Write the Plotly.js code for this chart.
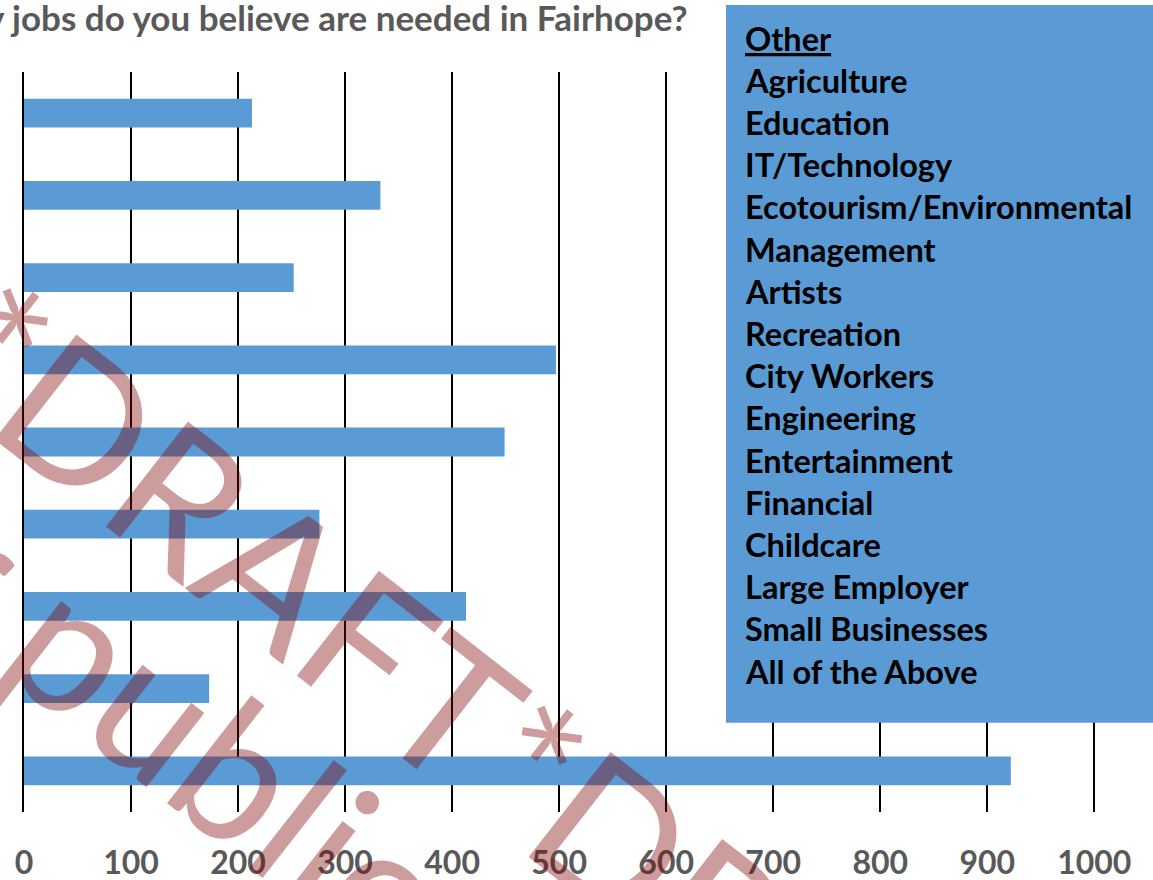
<!DOCTYPE html>
<html>
<head>
<meta charset="utf-8">
<script src="https://cdn.plot.ly/plotly-3.0.1.min.js"></script>
<style>html,body{margin:0;padding:0;background:#fff;overflow:hidden}</style>
</head>
<body>
<div id="chart" style="width:1153px;height:880px"></div>
<script>
// ---- data ----
var categories = ["Category 1","Category 2","Category 3","Category 4","Category 5","Category 6","Category 7","Category 8","Category 9"];
var values = [213, 333, 252, 497, 449, 276, 413, 173, 922];
var tickValues = [0,100,200,300,400,500,600,700,800,900,1000];
var tickLabels = ["0","100","200","300","400","500","600","700","800","900","1000"];
var otherJobs = ["Other","Agriculture","Education","IT/Technology","Ecotourism/Environmental","Management","Artists","Recreation","City Workers","Engineering","Entertainment","Financial","Childcare","Large Employer","Small Businesses","All of the Above"];
var titleText = "What industry jobs do you believe are needed in Fairhope?";
var watermark1 = "*DRAFT*DRAFT*";
var watermark2 = "Not for public distribution";

// ---- layout helpers (pixel -> paper) ----
var W = 1153, H = 880, ML = 24, MR = 48, MT = 72, MB = 68;
var PW = W - ML - MR, PH = H - MT - MB;
function px(x){ return (x - ML) / PW; }
function py(y){ return 1 - (y - MT) / PH; }

var blue = "#5B9BD5";
var wmColor = "rgba(125,0,0,0.39)";
var fontFam = "Lato, 'Open Sans', sans-serif";

var annotations = [];
annotations.push({
  xref:"paper", yref:"paper", x:px(690), y:py(17.5), xanchor:"right", yanchor:"middle",
  text:"<b>"+titleText+"</b>", showarrow:false,
  font:{family:fontFam, size:35, color:"#595959"}
});
otherJobs.forEach(function(t,i){
  annotations.push({
    xref:"paper", yref:"paper", x:px(743), y:py(38 + 42.2*i), xanchor:"left", yanchor:"middle",
    text: i===0 ? "<b><u>"+t+"</u></b>" : "<b>"+t+"</b>", showarrow:false,
    font:{family:fontFam, size:32.5, color:"#000000"}
  });
});
annotations.push({
  xref:"paper", yref:"paper", x:px(528), y:py(765), xanchor:"center", yanchor:"middle",
  text:watermark1, showarrow:false, textangle:38,
  font:{family:fontFam, size:186, color:wmColor}
});
annotations.push({
  xref:"paper", yref:"paper", x:px(368), y:py(869), xanchor:"center", yanchor:"middle",
  text:watermark2, showarrow:false, textangle:38,
  font:{family:fontFam, size:186, color:wmColor}
});

var trace = {
  type:"bar", orientation:"h", y:categories, x:values,
  marker:{color:blue, line:{width:0}}, width:0.35, hoverinfo:"x"
};

var layout = {
  width:W, height:H, margin:{l:ML, r:MR, t:MT, b:MB, pad:0},
  paper_bgcolor:"#ffffff", plot_bgcolor:"#ffffff",
  showlegend:false,
  xaxis:{
    range:[0,1010], tickvals:tickValues, ticktext:tickLabels,
    showgrid:true, gridcolor:"#000000", gridwidth:2, zeroline:false,
    showline:false, ticks:"", ticklabelstandoff:29,
    tickfont:{family:fontFam, size:32, color:"#595959", weight:"bold"}
  },
  yaxis:{
    type:"category", categoryorder:"array", categoryarray:categories,
    autorange:"reversed", showticklabels:false, showgrid:false, zeroline:false,
    showline:true, linecolor:"#000000", linewidth:2, layer:"above traces", ticks:""
  },
  shapes:[{
    type:"rect", xref:"paper", yref:"paper", x0:px(726), x1:px(1170), y0:py(722.7), y1:py(5),
    fillcolor:blue, line:{width:0}, layer:"above"
  }],
  annotations:annotations
};

Plotly.newPlot("chart", [trace], layout, {displayModeBar:false, staticPlot:true});
</script>
</body>
</html>
